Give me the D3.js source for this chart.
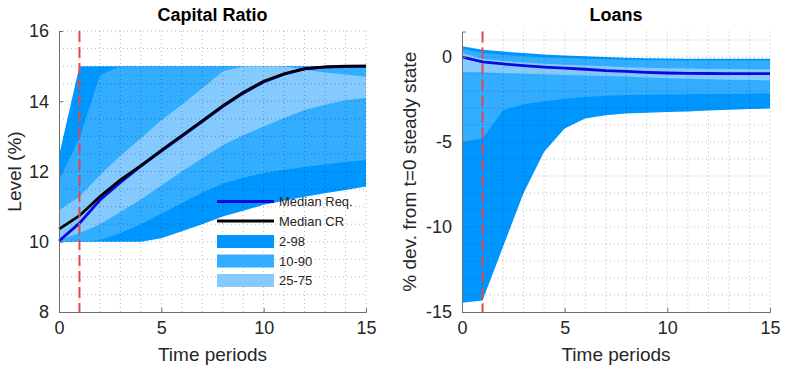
<!DOCTYPE html>
<html>
<head>
<meta charset="utf-8">
<script src="https://cdn.jsdelivr.net/npm/d3@7"></script>
<style>
  body { margin: 0; background: #fff; }
  svg text { font-family: "Liberation Sans", Arial, sans-serif; }
</style>
</head>
<body>
<svg id="chart" width="788" height="375"></svg>
<script>
// time periods
var periods = [0, 1, 2, 3, 4, 5, 6, 7, 8, 9, 10, 11, 12, 13, 14, 15]

// Capital Ratio (level, %)
var crP98 = [12.45, 15, 15, 15, 15, 15, 15, 15, 15, 15, 15, 15, 15, 15, 15, 15]
var crP90 = [11.75, 12.95, 14.75, 15, 15, 15, 15, 15, 15, 15, 15, 15, 15, 15, 15, 15]
var crP75 = [10.9, 11.28, 11.9, 12.45, 12.95, 13.46, 13.9, 14.37, 14.85, 15, 15, 15, 14.9, 14.82, 14.76, 14.7]
var crP25 = [10.05, 10.25, 10.5, 10.85, 11.2, 11.6, 12.0, 12.38, 12.75, 13.03, 13.28, 13.52, 13.75, 13.9, 14.03, 14.1]
var crP10 = [10, 10, 10.05, 10.25, 10.5, 10.8, 11.1, 11.4, 11.65, 11.82, 11.96, 12.05, 12.13, 12.2, 12.27, 12.33]
var crP2 = [10, 10, 10, 10, 10, 10.1, 10.3, 10.5, 10.72, 10.88, 11.05, 11.17, 11.28, 11.38, 11.47, 11.57]
var crMedianReq = [10.02, 10.53, 11.19, 11.69, 12.15, 12.58, 13.0, 13.42, 13.85, 14.23, 14.55, 14.77, 14.92, 14.97, 14.99, 15]
var crMedianCR = [10.36, 10.74, 11.29, 11.76, 12.17, 12.6, 13.02, 13.44, 13.87, 14.25, 14.57, 14.78, 14.93, 14.98, 15, 15]

// Loans (% dev. from t=0 steady state)
var lnP98 = [0.63, 0.43, 0.32, 0.23, 0.15, 0.09, 0.04, 0.0, -0.04, -0.07, -0.09, -0.1, -0.1, -0.1, -0.1, -0.1]
var lnP90 = [0.48, 0.25, 0.12, 0.04, -0.02, -0.06, -0.1, -0.13, -0.16, -0.18, -0.19, -0.2, -0.2, -0.2, -0.2, -0.2]
var lnP75 = [0.24, -0.1, -0.24, -0.33, -0.4, -0.45, -0.5, -0.55, -0.6, -0.63, -0.66, -0.68, -0.7, -0.71, -0.72, -0.72]
var lnP25 = [-0.88, -0.9, -0.95, -0.99, -1.03, -1.06, -1.09, -1.12, -1.15, -1.2, -1.25, -1.28, -1.31, -1.34, -1.36, -1.38]
var lnP10 = [-5.0, -4.8, -3.13, -2.78, -2.6, -2.45, -2.35, -2.28, -2.24, -2.22, -2.2, -2.19, -2.18, -2.17, -2.16, -2.15]
var lnP2 = [-14.45, -14.33, -11.16, -8.0, -5.58, -4.2, -3.62, -3.42, -3.33, -3.28, -3.23, -3.2, -3.15, -3.1, -3.06, -3.03]
var lnMedian = [0, -0.29, -0.41, -0.51, -0.59, -0.65, -0.72, -0.8, -0.85, -0.9, -0.94, -0.96, -0.97, -0.98, -0.98, -0.98]

var shockPeriod = 1

var crTicksY = [8, 10, 12, 14, 16]
var lnTicksY = [-15, -10, -5, 0]
var ticksX = [0, 5, 10, 15]

var legendLabels = ["Median Req.", "Median CR", "2-98", "10-90", "25-75"]

var colors = {
    band98: "#0096ff",
    band90: "#33adff",
    band75: "#85caff",
    req: "#0a0adc",
    cr: "#000000",
    shock: "#e4464e",
    axis: "#6e6e6e",
    text: "#262626"
}

var svg = d3.select("#chart")

function drawPanel (opt) {
    var x = d3.scaleLinear().domain([0, 15]).range([opt.left, opt.right])
    var y = d3.scaleLinear().domain(opt.yDomain).range([opt.bottom, opt.top])
    var g = svg.append("g")

    var area = function (lo, hi) {
        return d3.area()
            .x(function (d, i) { return x(periods[i]) })
            .y0(function (d, i) { return y(lo[i]) })
            .y1(function (d, i) { return y(hi[i]) })(periods)
    }

    // bands, widest first
    g.append("path").attr("d", area(opt.p2, opt.p98)).attr("fill", colors.band98)
    g.append("path").attr("d", area(opt.p10, opt.p90)).attr("fill", colors.band90)
    g.append("path").attr("d", area(opt.p25, opt.p75)).attr("fill", colors.band75)

    // dotted grid (on top of the bands)
    var grid = g.append("g")
    d3.range(1, 16).forEach(function (v) {
        grid.append("line")
            .attr("x1", x(v)).attr("x2", x(v))
            .attr("y1", opt.top).attr("y2", opt.bottom)
    })
    d3.range(opt.yDomain[0] + opt.gridStep, opt.yDomain[1] + 0.001, opt.gridStep).forEach(function (v) {
        grid.append("line")
            .attr("x1", opt.left).attr("x2", opt.right)
            .attr("y1", y(v)).attr("y2", y(v))
    })
    grid.selectAll("line")
        .attr("stroke", "rgba(0,0,0,0.28)")
        .attr("stroke-width", 1)
        .attr("stroke-dasharray", "1,3")

    // median lines
    opt.lines.forEach(function (ln) {
        g.append("path")
            .attr("d", d3.line()
                .x(function (d, i) { return x(periods[i]) })
                .y(function (d, i) { return y(ln.values[i]) })(periods))
            .attr("fill", "none")
            .attr("stroke", ln.color)
            .attr("stroke-width", 2.8)
    })

    // shock period marker
    g.append("line")
        .attr("x1", x(shockPeriod)).attr("x2", x(shockPeriod))
        .attr("y1", opt.top).attr("y2", opt.bottom)
        .attr("stroke", colors.shock)
        .attr("stroke-width", 2)
        .attr("stroke-dasharray", "11,5")

    // axes (left + bottom, ticks inward), plain hyphen for negatives
    var fmt = function (d) { return String(d) }
    var xAxis = d3.axisBottom(x).tickValues(ticksX).tickFormat(fmt).tickSize(-4).tickPadding(9)
    var yAxis = d3.axisLeft(y).tickValues(opt.yTicks).tickFormat(fmt).tickSize(-4).tickPadding(10)
    var gx = g.append("g").attr("transform", "translate(0," + opt.bottom + ")").call(xAxis)
    var gy = g.append("g").attr("transform", "translate(" + opt.left + ",0)").call(yAxis)
    ;[gx, gy].forEach(function (ax) {
        ax.select(".domain").attr("stroke", colors.axis)
        ax.selectAll(".tick line").attr("stroke", colors.axis)
        ax.selectAll(".tick text")
            .attr("fill", colors.text)
            .style("font-size", "18px")
    })

    // title and labels
    g.append("text")
        .attr("x", (opt.left + opt.right) / 2).attr("y", 21)
        .attr("text-anchor", "middle")
        .style("font-size", "18px").style("font-weight", "bold")
        .attr("fill", "#000")
        .text(opt.title)
    g.append("text")
        .attr("x", (opt.left + opt.right) / 2).attr("y", 361)
        .attr("text-anchor", "middle")
        .style("font-size", "19px")
        .attr("fill", colors.text)
        .text("Time periods")
    g.append("text")
        .attr("transform", "translate(" + opt.yLabelX + "," + ((opt.top + opt.bottom) / 2) + ") rotate(-90)")
        .attr("text-anchor", "middle")
        .style("font-size", "19px")
        .attr("fill", colors.text)
        .text(opt.yLabel)
    return g
}

var left = drawPanel({
    left: 59, right: 366, top: 31, bottom: 312,
    yDomain: [8, 16], yTicks: crTicksY, gridStep: 0.5,
    p98: crP98, p90: crP90, p75: crP75, p25: crP25, p10: crP10, p2: crP2,
    lines: [
        { values: crMedianReq, color: colors.req },
        { values: crMedianCR, color: colors.cr }
    ],
    title: "Capital Ratio", yLabel: "Level (%)", yLabelX: 21
})

drawPanel({
    left: 462, right: 770, top: 31.5, bottom: 312,
    yDomain: [-15, 1.5], yTicks: lnTicksY, gridStep: 1,
    p98: lnP98, p90: lnP90, p75: lnP75, p25: lnP25, p10: lnP10, p2: lnP2,
    lines: [
        { values: lnMedian, color: colors.req }
    ],
    title: "Loans", yLabel: "% dev. from t=0 steady state", yLabelX: 416
})

// legend inside the Capital Ratio panel
var legend = left.append("g")
var rowY = [201.5, 221, 241.5, 261, 280.5]
legendLabels.forEach(function (lab, i) {
    if (i < 2) {
        legend.append("line")
            .attr("x1", 217).attr("x2", 274)
            .attr("y1", rowY[i]).attr("y2", rowY[i])
            .attr("stroke", i === 0 ? colors.req : colors.cr)
            .attr("stroke-width", 2.8)
    } else {
        legend.append("rect")
            .attr("x", 217).attr("y", rowY[i] - 6.5)
            .attr("width", 57).attr("height", 13)
            .attr("fill", [colors.band98, colors.band90, colors.band75][i - 2])
    }
    legend.append("text")
        .attr("x", 279).attr("y", rowY[i] + 4.5)
        .style("font-size", "13px")
        .attr("fill", colors.text)
        .text(lab)
})
</script>
</body>
</html>
